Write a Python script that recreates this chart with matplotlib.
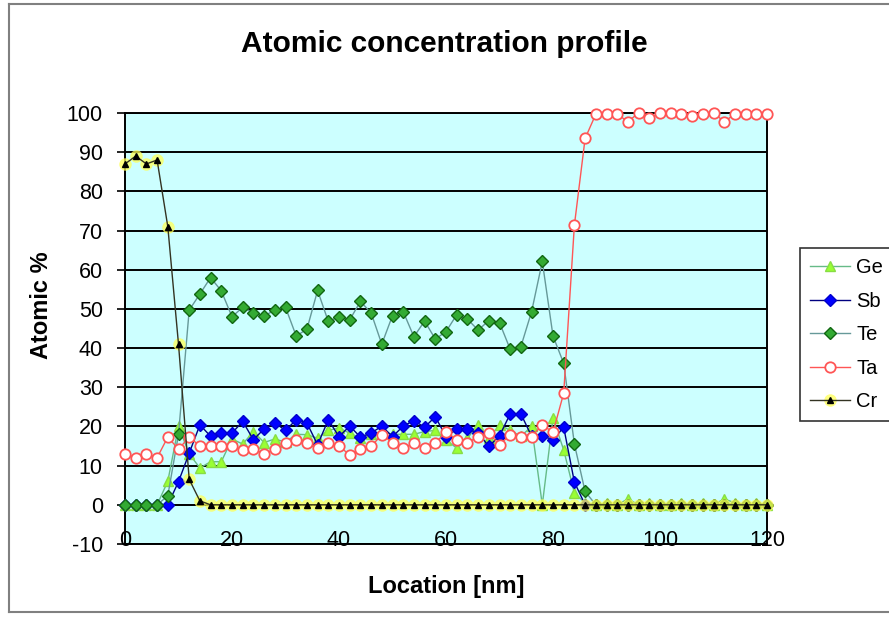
import matplotlib.pyplot as plt
from matplotlib.lines import Line2D

plt.rcParams['font.family'] = ['Liberation Sans', 'DejaVu Sans']
plt.rcParams['axes.unicode_minus'] = False

# location of each measurement [nm]
location = [0, 2, 4, 6, 8, 10, 12, 14, 16, 18,
            20, 22, 24, 26, 28, 30, 32, 34, 36, 38,
            40, 42, 44, 46, 48, 50, 52, 54, 56, 58,
            60, 62, 64, 66, 68, 70, 72, 74, 76, 78,
            80, 82, 84, 86, 88, 90, 92, 94, 96, 98,
            100, 102, 104, 106, 108, 110, 112, 114, 116, 118, 120]

ge = [0, 0, 0, 0, 6, 20, 13, 9.4, 11, 11,
      16.8, 15.5, 18.7, 15.9, 16.8, 16, 18, 17.9, 17, 19,
      19.6, 18.3, 17, 18, 18.7, 18, 18, 18, 18.7, 19,
      16.5, 14.5, 17, 20.4, 17, 20.4, 19, 17.5, 20, 0,
      22.1, 14, 3, 0.5, 0, 0.5, 0, 1.5, 0, 0.5,
      0, 0, 0.5, 0, 0.5, 0, 1.5, 0.5, 0, 0.5, 0]

sb = [0, 0, 0, 0, 0, 5.9, 13.2, 20.4, 17.5, 18.3,
      18.3, 21.3, 16.6, 19.4, 20.9, 19, 21.7, 20.9, 15.3, 21.7,
      17.4, 20.1, 17.3, 18.3, 20.1, 17.4, 20.1, 21.5, 19.8, 22.5,
      17.4, 19.3, 19.3, 18.4, 14.9, 17.6, 23.2, 23.2, 17.5, 17.6,
      16.6, 19.8, 5.8, 0, 0, 0, 0, 0, 0, 0,
      0, 0, 0, 0, 0, 0, 0, 0, 0, 0, 0]

te = [0, 0, 0, 0, 2.3, 18, 49.7, 53.8, 58, 54.6,
      48, 50.4, 49, 48.2, 49.7, 50.4, 43.1, 44.8, 54.7, 46.8,
      48, 47.2, 51.9, 49, 41, 48.3, 49.3, 42.9, 46.9, 42.3,
      44.2, 48.5, 47.4, 44.6, 47, 46.5, 39.7, 40.4, 49.3, 62.1,
      43.1, 36.1, 15.5, 3.4, 0, 0, 0, 0, 0, 0,
      0, 0, 0, 0, 0, 0, 0, 0, 0, 0, 0]

ta = [13, 12, 13, 12, 17.3, 14.2, 17.3, 15, 15, 15,
      14.9, 13.9, 14.2, 13, 14.2, 15.7, 16.5, 15.9, 14.5, 15.7,
      14.9, 12.8, 14.2, 14.9, 17.9, 15.9, 14.5, 15.7, 14.5, 15.7,
      18.7, 16.6, 15.9, 17.3, 18.3, 15.3, 17.9, 17.4, 17.4, 20.4,
      18.5, 28.5, 71.4, 93.5, 99.7, 99.7, 99.7, 97.8, 100, 98.6,
      100, 100, 99.7, 99.2, 99.7, 100, 97.8, 99.7, 99.7, 99.7, 99.7]

cr = [87, 89, 87, 88, 71, 41, 6.5, 1, 0, 0,
      0, 0, 0, 0, 0, 0, 0, 0, 0, 0,
      0, 0, 0, 0, 0, 0, 0, 0, 0, 0,
      0, 0, 0, 0, 0, 0, 0, 0, 0, 0,
      0, 0, 0, 0, 0, 0, 0, 0, 0, 0,
      0, 0, 0, 0, 0, 0, 0, 0, 0, 0, 0]

W, H = 889, 617
fig = plt.figure(figsize=(W / 100, H / 100), dpi=100)
ax = fig.add_axes([125 / W, 1 - 544 / H, (767 - 125) / W, (544 - 113) / H])
ax.set_facecolor('#ccffff')
ax.set_xlim(0, 120)
ax.set_ylim(-10, 100)

for v in range(-10, 101, 10):
    ax.axhline(v, color='black', lw=1.4, zorder=1)
for s in ax.spines.values():
    s.set_color('black')
    s.set_linewidth(1.4)

# series
l_ge, = ax.plot(location, ge, color='#66bb88', lw=1, marker='^', ms=6.5,
                mfc='#99ff33', mec='#88dd44', zorder=3, clip_on=False, label='Ge')
l_sb, = ax.plot(location, sb, color='#000080', lw=1, marker='D', ms=6.5,
                mfc='#0000ff', mec='#0000cc', zorder=4, clip_on=False, label='Sb')
l_te, = ax.plot(location, te, color='#669999', lw=1, marker='D', ms=6.5,
                mfc='#33aa33', mec='#116611', zorder=5, clip_on=False, label='Te')
l_ta, = ax.plot(location, ta, color='#ff5555', lw=1, marker='o', ms=7.5,
                mfc='white', mec='#ff5555', mew=1.3, zorder=6, clip_on=False, label='Ta')
glow, = ax.plot(location, cr, ls='none', marker='o', ms=9, mfc='#ffff55',
                mec='none', alpha=0.75, zorder=7, clip_on=False)
l_cr, = ax.plot(location, cr, color='#333322', lw=1, marker='^', ms=4.5,
                mfc='black', mec='black', zorder=8, clip_on=False, label='Cr')

ax.set_yticks(range(-10, 101, 10))
ax.set_xticks([0, 20, 40, 60, 80, 100, 120])
ax.tick_params(axis='y', labelsize=15.5, length=6, width=1.2, direction='out', pad=10)
ax.tick_params(axis='x', labelsize=15.5, length=0, pad=-10)

fig.text(444 / W, 1 - 44 / H, 'Atomic concentration profile', ha='center', va='center',
         fontsize=21.5, fontweight='bold')
fig.text(42 / W, 1 - 305 / H, 'Atomic %', ha='center', va='center', rotation=90,
         fontsize=17, fontweight='bold')
fig.text(446 / W, 1 - 587 / H, 'Location [nm]', ha='center', va='center',
         fontsize=17, fontweight='bold')

leg = fig.legend([l_ge, l_sb, l_te, l_ta, (glow, l_cr)], ['Ge', 'Sb', 'Te', 'Ta', 'Cr'],
                 loc='upper left', bbox_to_anchor=(800 / W, 1 - 248 / H),
                 fontsize=14.5, frameon=True, fancybox=False, edgecolor='black',
                 handlelength=2.0, handletextpad=0.3, labelspacing=0.72,
                 borderpad=0.5, borderaxespad=0)
leg.get_frame().set_linewidth(1.2)

# chart border
fig.add_artist(Line2D([9 / W, 9 / W], [1 - 4 / H, 1 - 612 / H], color='#808080', lw=1.5))
fig.add_artist(Line2D([9 / W, 1], [1 - 4 / H, 1 - 4 / H], color='#808080', lw=1.5))
fig.add_artist(Line2D([9 / W, 1], [1 - 612 / H, 1 - 612 / H], color='#808080', lw=1.5))

fig.savefig('out.png', dpi=100)
